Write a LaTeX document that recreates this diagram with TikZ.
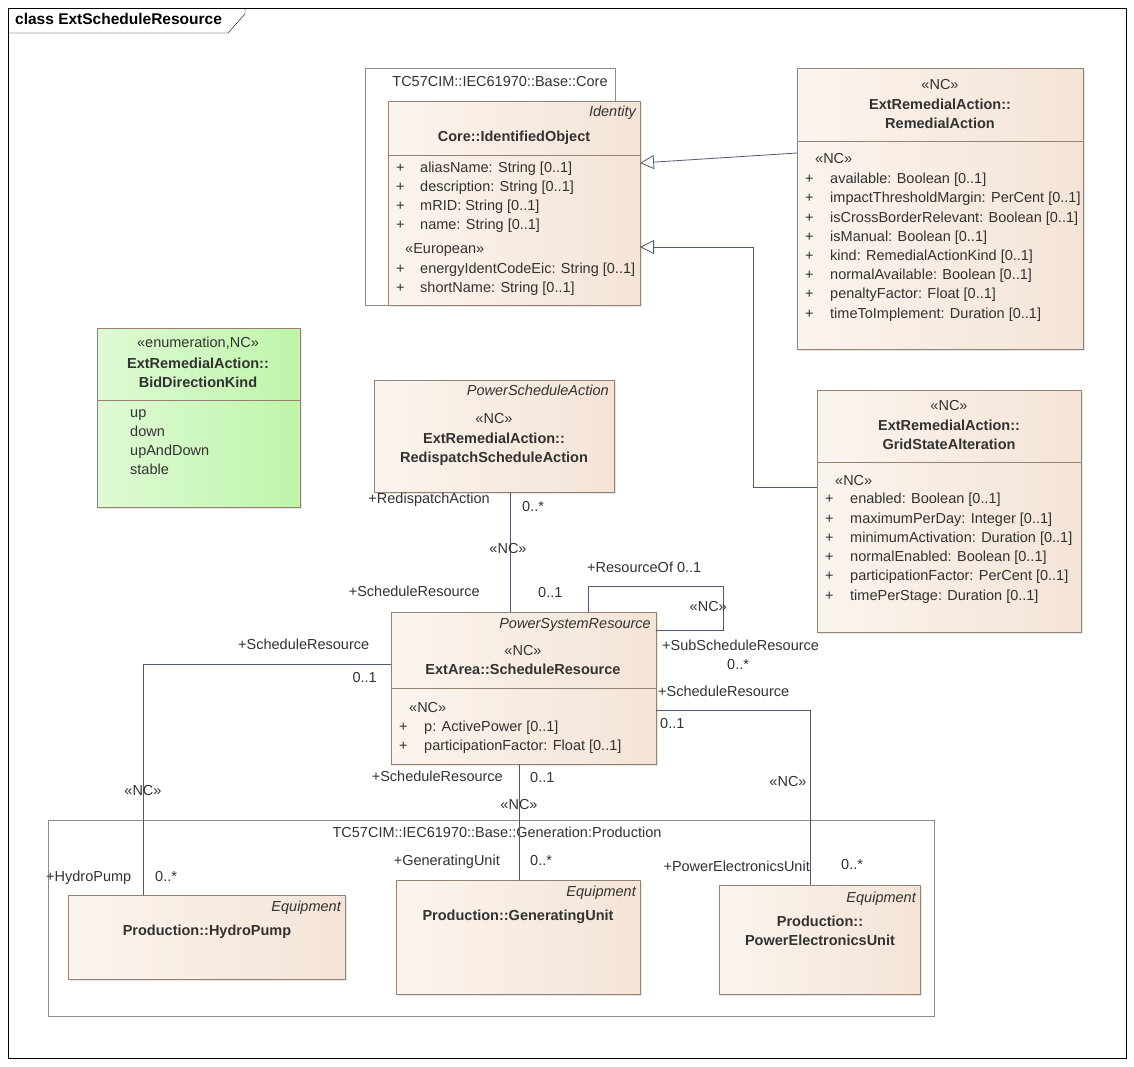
\documentclass[tikz,border=0pt]{standalone}
\usepackage{fontspec}
\setmainfont{Liberation Sans}
\usetikzlibrary{shadows}
\usetikzlibrary{arrows.meta}
\definecolor{clsline}{RGB}{150,130,115}
\definecolor{clsfill}{RGB}{244,228,214}
\definecolor{enumfill}{RGB}{190,245,170}
\definecolor{conline}{RGB}{80,88,115}
\definecolor{txt}{RGB}{50,50,50}
\tikzset{
  cls/.style={draw=clsline, anchor=north west, inner sep=0pt, left color=white!60!clsfill, right color=clsfill,
    drop shadow={shadow xshift=2pt, shadow yshift=-2pt, fill=black!20}},
  enumcls/.style={cls, left color=white!50!enumfill, right color=enumfill},
  pkg/.style={draw=black!45, anchor=north west, inner sep=0pt, fill=white},
  lbl/.style={font=\fontsize{14.5}{17}\selectfont, text=txt, inner sep=0pt, text height=10.5pt, text depth=3pt},
  hd/.style={lbl, font=\fontsize{14.5}{19}\selectfont\bfseries},
  hdm/.style={hd, align=center, text height=, text depth=},
  st/.style={lbl, font=\fontsize{14.5}{17}\selectfont\itshape},
  con/.style={draw=conline, thick},
  gen/.style={con, -{Triangle[open, length=14pt, width=14pt, fill=white]}},
}
\begin{document}
\begin{tikzpicture}[x=1pt, y=-1pt]
    \useasboundingbox (0,0) rectangle (1134,1066);
    % Frame
    \draw[black] (8,8) rectangle (1126,1058);
    \draw[black] (8,33) -- (228,33) -- (245,14) -- (245,8);
    \node[lbl, anchor=west, font=\fontsize{15.5}{17}\selectfont\bfseries, text=black] (title) at (15,21) {class ExtScheduleResource};

    % Package Base::Core
    \node[pkg, minimum width=250pt, minimum height=237pt] (core) at (365,68) {};
    \node[lbl] (corelbl) at (500,83) {TC57CIM::IEC61970::Base::Core};

    % Package Generation::Production
    \node[pkg, minimum width=886pt, minimum height=196pt] (prod) at (48,820) {};
    \node[lbl] (prodlbl) at (497,834) {TC57CIM::IEC61970::Base::Generation:Production};

    % IdentifiedObject
    \node[cls, minimum width=252pt, minimum height=204pt] (io) at (388,101) {};
    \draw[clsline] (388,155) -- (640,155);
    \node[st, anchor=east] (iost) at (636,113) {Identity};
    \node[hd] (ioname) at (514,138) {Core::IdentifiedObject};
    \foreach \t [count=\i] in {aliasName: String [0..1], description: String [0..1], mRID: String [0..1], name: String [0..1]} {
        \node[lbl, anchor=west] at (396,169+19*\i-19) {+};
        \node[lbl, anchor=west] at (420,169+19*\i-19) {\t};
    }
    \node[lbl, anchor=west] (ioeu) at (405,250) {«European»};
    \foreach \t [count=\i] in {energyIdentCodeEic: String [0..1], shortName: String [0..1]} {
        \node[lbl, anchor=west] at (396,270+19*\i-19) {+};
        \node[lbl, anchor=west] at (420,270+19*\i-19) {\t};
    }

    % RemedialAction
    \node[cls, minimum width=286pt, minimum height=281pt] (ra) at (797,68) {};
    \draw[clsline] (797,141) -- (1083,141);
    \node[lbl] (rast) at (940,86) {«NC»};
    \node[hdm] (raname) at (940,114) {ExtRemedialAction::\\RemedialAction};
    \node[lbl, anchor=west] (rast2) at (815,160) {«NC»};
    \foreach \t [count=\i] in {available: Boolean [0..1], impactThresholdMargin: PerCent [0..1], isCrossBorderRelevant: Boolean [0..1], isManual: Boolean [0..1], kind: RemedialActionKind [0..1], normalAvailable: Boolean [0..1], penaltyFactor: Float [0..1], timeToImplement: Duration [0..1]} {
        \node[lbl, anchor=west] at (805,180+19.2*\i-19.2) {+};
        \node[lbl, anchor=west] at (830,180+19.2*\i-19.2) {\t};
    }

    % GridStateAlteration
    \node[cls, minimum width=264pt, minimum height=242pt] (gsa) at (817,390) {};
    \draw[clsline] (817,462) -- (1081,462);
    \node[lbl] (gsast) at (949,407) {«NC»};
    \node[hdm] (gsaname) at (949,435) {ExtRemedialAction::\\GridStateAlteration};
    \node[lbl, anchor=west] (gsast2) at (835,482) {«NC»};
    \foreach \t [count=\i] in {enabled: Boolean [0..1], maximumPerDay: Integer [0..1], minimumActivation: Duration [0..1], normalEnabled: Boolean [0..1], participationFactor: PerCent [0..1], timePerStage: Duration [0..1]} {
        \node[lbl, anchor=west] at (825,500+19.3*\i-19.3) {+};
        \node[lbl, anchor=west] at (850,500+19.3*\i-19.3) {\t};
    }

    % BidDirectionKind
    \node[enumcls, minimum width=203pt, minimum height=179pt] (bdk) at (97,328) {};
    \draw[clsline] (97,400) -- (300,400);
    \node[lbl] (bdkst) at (198,344) {«enumeration,NC»};
    \node[hdm] (bdkname) at (198,373) {ExtRemedialAction::\\BidDirectionKind};
    \foreach \t [count=\i] in {up, down, upAndDown, stable} {
        \node[lbl, anchor=west] at (130,414+19*\i-19) {\t};
    }

    % RedispatchScheduleAction
    \node[cls, minimum width=240pt, minimum height=112pt] (rsa) at (374,380) {};
    \node[st, anchor=east] (rsast) at (609,392) {PowerScheduleAction};
    \node[lbl] (rsast2) at (494,420) {«NC»};
    \node[hdm] (rsaname) at (494,449) {ExtRemedialAction::\\RedispatchScheduleAction};

    % ScheduleResource
    \node[cls, minimum width=265pt, minimum height=152pt] (sr) at (391,612) {};
    \draw[clsline] (391,688) -- (656,688);
    \node[st, anchor=east] (srst) at (651,625) {PowerSystemResource};
    \node[lbl] (srst2) at (523,652) {«NC»};
    \node[hd] (srname) at (523,671) {ExtArea::ScheduleResource};
    \node[lbl, anchor=west] (srst3) at (409,709) {«NC»};
    \foreach \t [count=\i] in {p: ActivePower [0..1], participationFactor: Float [0..1]} {
        \node[lbl, anchor=west] at (399,728+19*\i-19) {+};
        \node[lbl, anchor=west] at (424,728+19*\i-19) {\t};
    }

    % Production classes
    \node[cls, minimum width=277pt, minimum height=84pt] (hp) at (68,895) {};
    \node[st, anchor=east] (hpst) at (341,908) {Equipment};
    \node[hd] (hpname) at (207,932) {Production::HydroPump};
    \node[cls, minimum width=244pt, minimum height=114pt] (gu) at (396,880) {};
    \node[st, anchor=east] (gust) at (636,893) {Equipment};
    \node[hd] (guname) at (518,917) {Production::GeneratingUnit};
    \node[cls, minimum width=201pt, minimum height=109pt] (peu) at (719,885) {};
    \node[st, anchor=east] (peust) at (916,899) {Equipment};
    \node[hdm] (peuname) at (820,931) {Production::\\PowerElectronicsUnit};

    % Generalisations
    \coordinate (ragen) at (640,163);
    \coordinate (gsagen) at (640,247);
    \draw[gen] (ra.west |- 0,153) -- (ragen);
    \draw[gen] (gsa.west |- 0,487) -- (753,487) -- (753,247) -- (gsagen);

    % Associations
    \draw[con] (rsa.south -| 510,0) -- (sr.north -| 510,0);
    \node[lbl, anchor=east] at (490,500) {+RedispatchAction};
    \node[lbl, anchor=west] at (522,508) {0..*};
    \node[lbl] at (508,550) {«NC»};
    \node[lbl, anchor=east] at (480,593) {+ScheduleResource};
    \node[lbl, anchor=west] at (538,594) {0..1};

    \draw[con] (sr.north -| 588,0) -- (588,586) -- (723,586) -- (723,630) -- (sr.east |- 0,630);
    \node[lbl, anchor=west] at (587,569) {+ResourceOf 0..1};
    \node[lbl, anchor=east] at (727,608) {«NC»};
    \node[lbl, anchor=west] at (662,647) {+SubScheduleResource};
    \node[lbl, anchor=west] at (727,666) {0..*};

    \draw[con] (sr.west |- 0,664) -- (143,664) -- (hp.north -| 143,0);
    \node[lbl, anchor=west] at (238,646) {+ScheduleResource};
    \node[lbl, anchor=east] at (377,679) {0..1};
    \node[lbl] at (143,792) {«NC»};
    \node[lbl, anchor=west] at (46,878) {+HydroPump};
    \node[lbl, anchor=west] at (155,878) {0..*};

    \draw[con] (sr.south -| 519,0) -- (gu.north -| 519,0);
    \node[lbl, anchor=east] at (503,778) {+ScheduleResource};
    \node[lbl, anchor=west] at (530,779) {0..1};
    \node[lbl] at (519,806) {«NC»};
    \node[lbl, anchor=east] at (500,862) {+GeneratingUnit};
    \node[lbl, anchor=west] at (530,862) {0..*};

    \draw[con] (sr.east |- 0,710) -- (810,710) -- (peu.north -| 810,0);
    \node[lbl, anchor=west] at (658,693) {+ScheduleResource};
    \node[lbl, anchor=west] at (660,725) {0..1};
    \node[lbl] at (788,783) {«NC»};
    \node[lbl, anchor=east] at (810,868) {+PowerElectronicsUnit};
    \node[lbl, anchor=west] at (841,866) {0..*};
\end{tikzpicture}
\end{document}
